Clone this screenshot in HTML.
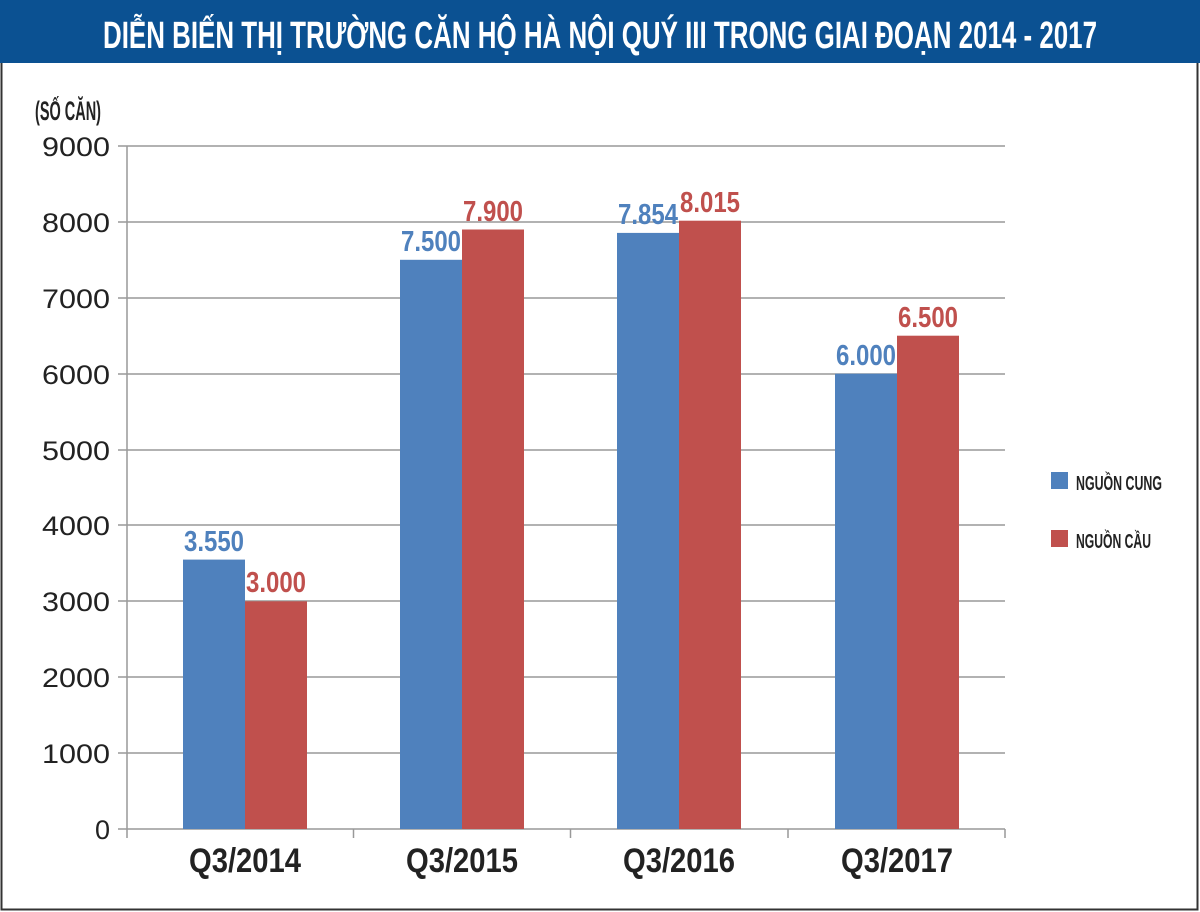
<!DOCTYPE html>
<html><head><meta charset="utf-8"><style>
html,body{margin:0;padding:0;background:#fff;}
svg{display:block;}
text{font-family:"Liberation Sans",sans-serif;}
</style></head><body>
<svg width="1200" height="912" viewBox="0 0 1200 912" xmlns="http://www.w3.org/2000/svg">
<rect x="0" y="0" width="1200" height="912" fill="#fff"/>
<rect x="1.5" y="1.5" width="1196" height="908" fill="none" stroke="#333" stroke-width="2"/>
<rect x="0" y="0" width="1200" height="63" fill="#0b5192"/>
<text x="600" y="48" text-anchor="middle" font-size="38" font-weight="bold" fill="#fff" textLength="994" lengthAdjust="spacingAndGlyphs">DIỄN BIẾN THỊ TRƯỜNG CĂN HỘ HÀ NỘI QUÝ III TRONG GIAI ĐOẠN 2014 - 2017</text>
<text x="35" y="120" font-size="27" font-weight="bold" fill="#222" textLength="66" lengthAdjust="spacingAndGlyphs">(SỐ CĂN)</text>
<g stroke="#999" stroke-width="1.5">
<line x1="118" y1="146" x2="1005" y2="146"/>
<line x1="118" y1="222" x2="1005" y2="222"/>
<line x1="118" y1="298" x2="1005" y2="298"/>
<line x1="118" y1="374" x2="1005" y2="374"/>
<line x1="118" y1="450" x2="1005" y2="450"/>
<line x1="118" y1="525" x2="1005" y2="525"/>
<line x1="118" y1="601" x2="1005" y2="601"/>
<line x1="118" y1="677" x2="1005" y2="677"/>
<line x1="118" y1="753" x2="1005" y2="753"/>
<line x1="118" y1="829" x2="1005" y2="829"/>
<line x1="127" y1="146" x2="127" y2="838"/>
<line x1="353.5" y1="829" x2="353.5" y2="838"/>
<line x1="570.5" y1="829" x2="570.5" y2="838"/>
<line x1="788" y1="829" x2="788" y2="838"/>
<line x1="1005" y1="829" x2="1005" y2="838"/>
</g>
<g font-size="27" fill="#222" text-anchor="end">
<text x="110" y="156" textLength="68" lengthAdjust="spacingAndGlyphs">9000</text>
<text x="110" y="232" textLength="68" lengthAdjust="spacingAndGlyphs">8000</text>
<text x="110" y="308" textLength="68" lengthAdjust="spacingAndGlyphs">7000</text>
<text x="110" y="384" textLength="68" lengthAdjust="spacingAndGlyphs">6000</text>
<text x="110" y="460" textLength="68" lengthAdjust="spacingAndGlyphs">5000</text>
<text x="110" y="535" textLength="68" lengthAdjust="spacingAndGlyphs">4000</text>
<text x="110" y="611" textLength="68" lengthAdjust="spacingAndGlyphs">3000</text>
<text x="110" y="687" textLength="68" lengthAdjust="spacingAndGlyphs">2000</text>
<text x="110" y="763" textLength="68" lengthAdjust="spacingAndGlyphs">1000</text>
<text x="110" y="839">0</text>
</g>
<g fill="#4f81bd">
<rect x="183" y="559.6" width="62" height="269.4"/>
<rect x="400" y="259.8" width="62" height="569.2"/>
<rect x="617" y="232.9" width="62" height="596.1"/>
<rect x="835" y="373.7" width="62" height="455.3"/>
</g>
<g fill="#c0504d">
<rect x="245" y="601.3" width="62" height="227.7"/>
<rect x="462" y="229.5" width="62" height="599.5"/>
<rect x="679" y="220.7" width="62" height="608.3"/>
<rect x="897" y="335.7" width="62" height="493.3"/>
</g>
<g font-size="29" font-weight="bold" text-anchor="middle">
<text x="214" y="551" fill="#4f81bd" textLength="60" lengthAdjust="spacingAndGlyphs">3.550</text>
<text x="276" y="592" fill="#c0504d" textLength="60" lengthAdjust="spacingAndGlyphs">3.000</text>
<text x="431" y="251" fill="#4f81bd" textLength="60" lengthAdjust="spacingAndGlyphs">7.500</text>
<text x="493" y="221" fill="#c0504d" textLength="60" lengthAdjust="spacingAndGlyphs">7.900</text>
<text x="648" y="224" fill="#4f81bd" textLength="60" lengthAdjust="spacingAndGlyphs">7.854</text>
<text x="710" y="212" fill="#c0504d" textLength="60" lengthAdjust="spacingAndGlyphs">8.015</text>
<text x="866" y="365" fill="#4f81bd" textLength="60" lengthAdjust="spacingAndGlyphs">6.000</text>
<text x="928" y="327" fill="#c0504d" textLength="60" lengthAdjust="spacingAndGlyphs">6.500</text>
</g>
<g font-size="34" font-weight="bold" fill="#222" text-anchor="middle">
<text x="245" y="872" textLength="112" lengthAdjust="spacingAndGlyphs">Q3/2014</text>
<text x="462" y="872" textLength="112" lengthAdjust="spacingAndGlyphs">Q3/2015</text>
<text x="679" y="872" textLength="112" lengthAdjust="spacingAndGlyphs">Q3/2016</text>
<text x="897" y="872" textLength="112" lengthAdjust="spacingAndGlyphs">Q3/2017</text>
</g>
<rect x="1051" y="472" width="17" height="17" fill="#4f81bd"/>
<rect x="1051" y="530" width="17" height="17" fill="#c0504d"/>
<g font-size="20" font-weight="bold" fill="#222">
<text x="1076" y="490" textLength="86" lengthAdjust="spacingAndGlyphs">NGUỒN CUNG</text>
<text x="1076" y="548" textLength="75" lengthAdjust="spacingAndGlyphs">NGUỒN CẦU</text>
</g>
</svg>
</body></html>
